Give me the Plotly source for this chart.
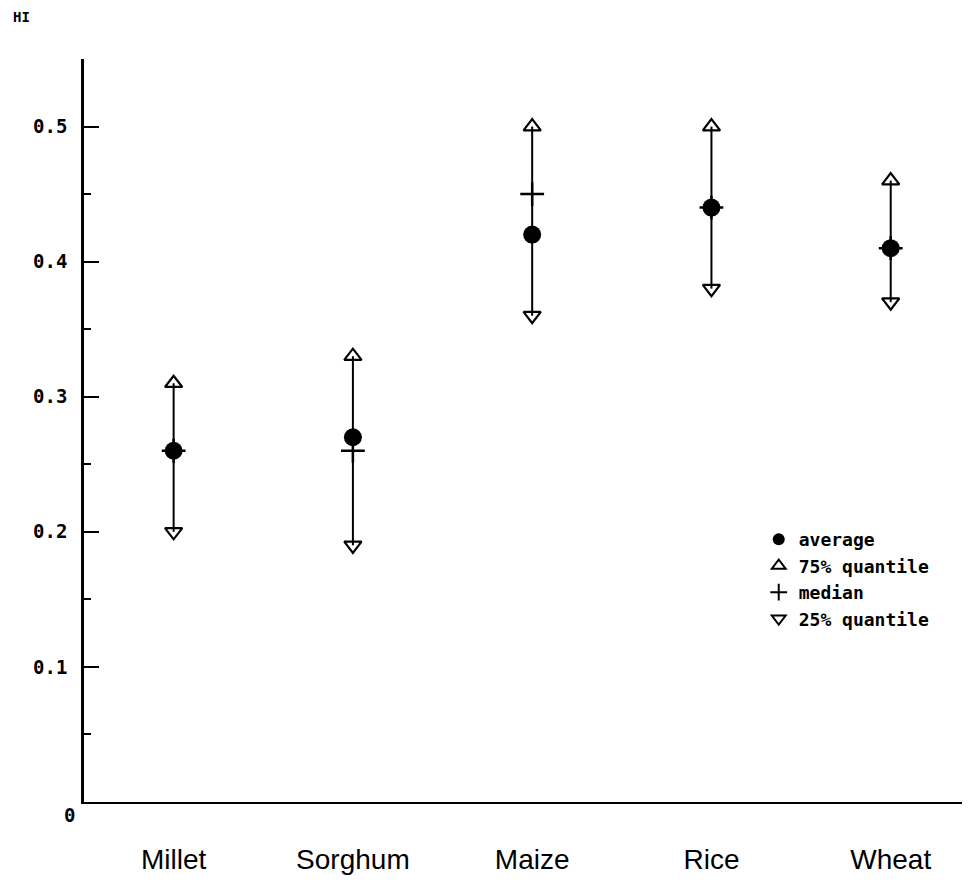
import plotly.graph_objects as go

crops = ["Millet", "Sorghum", "Maize", "Rice", "Wheat"]
average = [0.26, 0.27, 0.42, 0.44, 0.41]
q75 = [0.31, 0.33, 0.50, 0.50, 0.46]
median = [0.26, 0.26, 0.45, 0.44, 0.41]
q25 = [0.20, 0.19, 0.36, 0.38, 0.37]
y_ticks = [0.1, 0.2, 0.3, 0.4, 0.5]

pos = list(range(1, len(crops) + 1))
MONO = "DejaVu Sans Mono"

# vertical range lines built from the quantile arrays
lx, ly = [], []
for p, lo, hi in zip(pos, q25, q75):
    lx += [p, p, None]
    ly += [lo, hi, None]

fig = go.Figure()
fig.add_trace(go.Scatter(x=lx, y=ly, mode="lines", line=dict(color="black", width=2),
                         showlegend=False, hoverinfo="skip"))
fig.add_trace(go.Scatter(x=pos, y=median, mode="markers", name="median", legendrank=3,
                         marker=dict(symbol="cross-thin", size=17, color="black",
                                     line=dict(width=2.5, color="black"))))
fig.add_trace(go.Scatter(x=pos, y=q75, mode="markers", name="75% quantile", legendrank=2,
                         marker=dict(symbol="triangle-up-open", size=15, color="black",
                                     line=dict(width=2.2, color="black"))))
fig.add_trace(go.Scatter(x=pos, y=q25, mode="markers", name="25% quantile", legendrank=4,
                         marker=dict(symbol="triangle-down-open", size=15, color="black",
                                     line=dict(width=2.2, color="black"))))
fig.add_trace(go.Scatter(x=pos, y=average, mode="markers", name="average", legendrank=1,
                         marker=dict(symbol="circle", size=18, color="black")))

fig.update_layout(
    width=962, height=882,
    margin=dict(l=76, r=4, t=51, b=88),
    paper_bgcolor="white", plot_bgcolor="white",
    font=dict(family=MONO, color="black", size=17),
    legend=dict(x=0.765, y=0.378, xanchor="left", yanchor="top",
                font=dict(family=MONO, size=18, color="black", weight="bold"),
                bgcolor="rgba(0,0,0,0)", itemwidth=30, itemsizing="constant",
                tracegroupgap=0, traceorder="normal"),
    xaxis=dict(range=[0.5, 5.42], tickvals=pos, ticktext=crops, showgrid=False,
               zeroline=False, showline=True, linecolor="black", linewidth=2,
               ticks="", ticklabelstandoff=31,
               tickfont=dict(family="Liberation Sans", size=28, color="black")),
    yaxis=dict(range=[0, 0.55], tickvals=y_ticks, ticktext=[f"{v:.1f}" for v in y_ticks],
               showgrid=False, zeroline=False, showline=True, linecolor="black", linewidth=2.5,
               ticks="inside", ticklen=15, tickwidth=2, tickcolor="black",
               ticklabelstandoff=10,
               minor=dict(dtick=0.05, tick0=0, ticks="inside", ticklen=7, tickwidth=2,
                          tickcolor="black", showgrid=False),
               tickfont=dict(family=MONO, size=19, color="black", weight="bold")),
    annotations=[
        dict(text="HI", xref="paper", yref="paper", x=-0.071, y=1.056, xanchor="center",
             yanchor="middle", showarrow=False,
             font=dict(family=MONO, size=14, color="black", weight="bold")),
        dict(text="0", xref="paper", yref="paper", x=-0.016, y=-0.0175, xanchor="center",
             yanchor="middle", showarrow=False,
             font=dict(family=MONO, size=19, color="black", weight="bold")),
    ],
)

fig.write_html("out.html")
